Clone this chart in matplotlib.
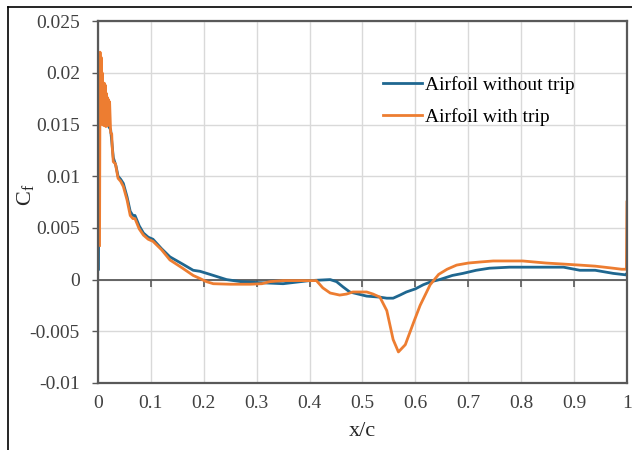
import matplotlib.pyplot as plt
from matplotlib.lines import Line2D
from matplotlib.ticker import FuncFormatter

# Skin friction coefficient along the chord
x_no_trip = [0.001, 0.002, 0.006, 0.012, 0.018, 0.024, 0.029, 0.034, 0.038, 0.043, 0.048,
             0.055, 0.061, 0.066, 0.070, 0.078, 0.086, 0.095, 0.104, 0.120, 0.136, 0.160,
             0.180, 0.193, 0.212, 0.243, 0.270, 0.306, 0.350, 0.400, 0.439, 0.451, 0.463,
             0.476, 0.492, 0.508, 0.533, 0.546, 0.558, 0.571, 0.583, 0.600, 0.615, 0.630,
             0.646, 0.670, 0.690, 0.715, 0.740, 0.778, 0.830, 0.880, 0.911, 0.940, 0.974,
             0.999, 1.000]
cf_no_trip = [0.0010, 0.0170, 0.0165, 0.0158, 0.0150, 0.0145, 0.0118, 0.0110, 0.0100, 0.0097, 0.0093,
              0.0080, 0.0066, 0.0062, 0.0062, 0.0052, 0.0045, 0.0041, 0.0039, 0.0030, 0.0022, 0.0015,
              0.0009, 0.0008, 0.0005, 0.0000, -0.0002, -0.0003, -0.0004, -0.0001, 0.0000, -0.0002, -0.0007,
              -0.0012, -0.0014, -0.0016, -0.0017, -0.0018, -0.0018, -0.0015, -0.0012, -0.0009, -0.0005, -0.0002,
              0.0000, 0.0004, 0.0006, 0.0009, 0.0011, 0.0012, 0.0012, 0.0012, 0.0009, 0.0009, 0.0006,
              0.00045, 0.0006]

x_trip = [0.003, 0.004, 0.005, 0.006, 0.007, 0.008, 0.009, 0.010, 0.011, 0.012, 0.013,
          0.014, 0.015, 0.016, 0.017, 0.018, 0.019, 0.020, 0.021, 0.022, 0.024, 0.026,
          0.027, 0.029, 0.033, 0.038, 0.043, 0.048, 0.055, 0.061, 0.066, 0.070, 0.078,
          0.086, 0.095, 0.104, 0.120, 0.136, 0.160, 0.180, 0.193, 0.205, 0.218, 0.250,
          0.288, 0.310, 0.325, 0.350, 0.380, 0.413, 0.425, 0.439, 0.457, 0.470, 0.482,
          0.495, 0.508, 0.520, 0.533, 0.546, 0.558, 0.568, 0.581, 0.597, 0.609, 0.628,
          0.644, 0.660, 0.678, 0.700, 0.722, 0.747, 0.775, 0.803, 0.847, 0.880, 0.911,
          0.940, 0.974, 0.990, 0.999, 1.000]
cf_trip = [0.0033, 0.0220, 0.0150, 0.0215, 0.0152, 0.0200, 0.0150, 0.0190, 0.0149, 0.0190, 0.0150,
           0.0188, 0.0148, 0.0180, 0.0150, 0.0176, 0.0149, 0.0174, 0.0150, 0.0172, 0.0142, 0.0141,
           0.0128, 0.0114, 0.0112, 0.0098, 0.0095, 0.0090, 0.0077, 0.0062, 0.0059, 0.0059, 0.0049,
           0.0043, 0.0039, 0.0037, 0.0029, 0.0019, 0.0011, 0.0004, 0.0001, -0.0002, -0.0004, -0.00045,
           -0.00045, -0.0004, -0.0002, -0.0001, -0.0001, -0.0001, -0.0008, -0.0013, -0.0015, -0.0014, -0.0012,
           -0.0012, -0.0012, -0.0014, -0.0017, -0.0030, -0.0058, -0.0070, -0.0063, -0.0041, -0.0025, -0.0005,
           0.0005, 0.0010, 0.0014, 0.0016, 0.0017, 0.0018, 0.0018, 0.0018, 0.0016, 0.0015, 0.0014,
           0.0013, 0.0011, 0.0010, 0.0010, 0.0075]

x_ticks = [0, 0.1, 0.2, 0.3, 0.4, 0.5, 0.6, 0.7, 0.8, 0.9, 1]
y_ticks = [-0.01, -0.005, 0, 0.005, 0.01, 0.015, 0.02, 0.025]

plt.rcParams['font.family'] = ['Liberation Serif', 'DejaVu Serif']

fig = plt.figure(figsize=(6.32, 4.5), dpi=100)
ax = fig.add_axes([0.155, 0.149, 0.837, 0.804])

blue = '#1F6790'
orange = '#ED7D31'
dark = '#595959'

ax.plot(x_no_trip, cf_no_trip, color=blue, lw=2.0, label='Airfoil without trip')
ax.plot(x_trip, cf_trip, color=orange, lw=2.0, label='Airfoil with trip')

ax.set_xlim(0, 1)
ax.set_ylim(-0.01, 0.025)
ax.set_xticks(x_ticks)
ax.set_yticks(y_ticks)
ax.xaxis.set_major_formatter(FuncFormatter(lambda v, p: '%g' % v))
ax.yaxis.set_major_formatter(FuncFormatter(lambda v, p: '%g' % v))
ax.grid(True, color='#d9d9d9', lw=1.0)
ax.set_axisbelow(True)

for s in ax.spines.values():
    s.set_color(dark)
    s.set_linewidth(1.6)

ax.tick_params(axis='x', length=0, pad=9, labelsize=14, labelcolor='#404040')
ax.tick_params(axis='y', length=4, width=1, color=dark, pad=9, labelsize=14, labelcolor='#404040')

# zero line with its own tick marks, like the Excel horizontal axis
ax.axhline(0, color=dark, lw=1.3, zorder=1.5)
ax.plot(x_ticks, [0] * len(x_ticks), ls='none', marker=3, ms=5, mew=1.2, color=dark,
        zorder=1.5, clip_on=False)

ax.set_xlabel('x/c', fontsize=16, color='#262626', labelpad=7)
ax.set_ylabel('C$_\\mathregular{f}$', fontsize=16, color='#262626')
ax.yaxis.set_label_coords(-0.115, 0.52)

ax.legend(loc='upper left', bbox_to_anchor=(0.524, 0.869), frameon=False, fontsize=14,
          handlelength=2.0, handletextpad=0.15, labelspacing=0.7, borderaxespad=0)

# frame of the original picture (top and left edges visible)
fig.add_artist(Line2D([8 / 632, 1], [1 - 7 / 450, 1 - 7 / 450], color='black', lw=1.2))
fig.add_artist(Line2D([8 / 632, 8 / 632], [0, 1 - 7 / 450], color='black', lw=1.2))

fig.savefig('out.png', dpi=100)
